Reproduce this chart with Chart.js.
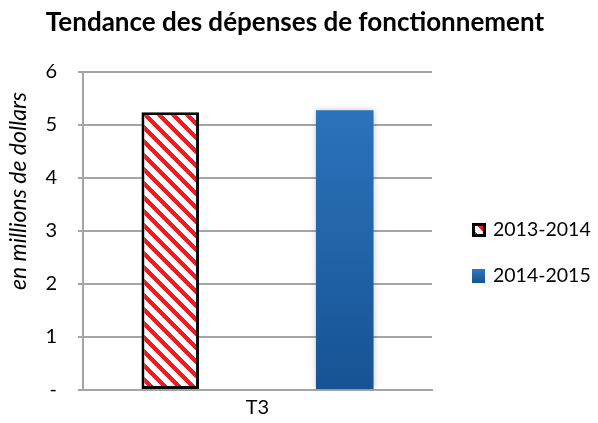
<!DOCTYPE html>
<html>
<head>
<meta charset="utf-8">
<script src="https://cdn.jsdelivr.net/npm/chart.js@4/dist/chart.umd.min.js"></script>
<style>
  html, body { margin:0; padding:0; background:#fff; }
  #wrap { width:598px; height:423px; }
</style>
</head>
<body>
<div id="wrap"><canvas id="chart" width="598" height="423"></canvas></div>
<script>
// data
const categories = ['T3'];
const seriesNames = ['2013-2014', '2014-2015'];
const values2013 = [5.24];
const values2014 = [5.28];
const yTickLabels = ['-', '1', '2', '3', '4', '5', '6'];
const chartTitle = 'Tendance des dépenses de fonctionnement';
const yTitle = 'en millions de dollars';

const FONT = 'Lato';

// red / white diagonal stripes
function makeStripes(){
    const s = 14, c = document.createElement('canvas');
    c.width = s; c.height = s;
    const g = c.getContext('2d');
    const img = g.createImageData(s, s);
    for(let y=0;y<s;y++){
        for(let x=0;x<s;x++){
            const k = (((x - y) % s) + s) % s;
            const red = k < 6;
            const i = (y*s + x)*4;
            img.data[i]   = red ? 237 : 255;
            img.data[i+1] = red ? 28 : 255;
            img.data[i+2] = red ? 36 : 255;
            img.data[i+3] = 255;
        }
    }
    g.putImageData(img, 0, 0);
    return g.createPattern(c, 'repeat');
}
const stripes = makeStripes();

function blueFill(context){
    const {ctx, chartArea} = context.chart;
    if(!chartArea) return '#2e75c0';
    const g = ctx.createLinearGradient(0, chartArea.top, 0, chartArea.bottom);
    g.addColorStop(0, '#2e77c2');
    g.addColorStop(1, '#165393');
    return g;
}

// title, y title and legend drawn by hand
const extras = {
    id:'extras',
    beforeDatasetDraw(chart, args){
        if(args.index === 1){
            const c = chart.ctx;
            c.save();
            c.shadowColor = 'rgba(0,0,0,0.22)';
            c.shadowBlur = 6;
        }
    },
    afterDatasetDraw(chart, args){
        if(args.index === 1) chart.ctx.restore();
    },
    afterDraw(chart){
        const c = chart.ctx;
        c.save();
        c.font = `bold 26px ${FONT}`;
        c.fillStyle = '#000';
        c.textAlign = 'center';
        c.textBaseline = 'middle';
        c.fillText(chartTitle, 295, 23);
        c.restore();

        c.save();
        c.translate(19, 191);
        c.rotate(-Math.PI/2);
        c.font = `italic 23px ${FONT}`;
        c.fillStyle = '#000';
        c.textAlign = 'center';
        c.textBaseline = 'middle';
        c.fillText(yTitle, 0, 0);
        c.restore();

        // legend
        c.save();
        c.font = `19.5px ${FONT}`;
        c.textBaseline = 'middle';
        const ys = [223, 269];
        seriesNames.forEach((name, i)=>{
            const bx = 472, by = ys[i], bs = 14;
            if(i === 0){
                c.fillStyle = '#000';
                c.fillRect(bx, by, bs, bs);
                c.fillStyle = stripes;
                c.fillRect(bx+3, by+3, bs-6, bs-6);
            }else{
                const g = c.createLinearGradient(0, by, 0, by+bs);
                g.addColorStop(0, '#2e77c2');
                g.addColorStop(1, '#165393');
                c.fillStyle = g;
                c.fillRect(bx, by, bs-1, bs);
            }
            c.fillStyle = '#000';
            c.fillText(name, 493, by + bs/2);
        });
        c.restore();
    }
};

new Chart(document.getElementById('chart'), {
    type:'bar',
    data:{
        labels:categories,
        datasets:[
            {label:seriesNames[0], data:values2013, backgroundColor:stripes,
             borderColor:'#000', borderWidth:3, borderSkipped:false},
            {label:seriesNames[1], data:values2014, backgroundColor:blueFill,
             borderWidth:0}
        ]
    },
    options:{
        responsive:false,
        animation:false,
        devicePixelRatio:1,
        categoryPercentage:1.0,
        barPercentage:0.33,
        layout:{padding:{left:0, right:166, top:72, bottom:0}},
        plugins:{
            legend:{display:false},
            tooltip:{enabled:false},
            title:{display:false}
        },
        scales:{
            x:{
                grid:{display:false, drawTicks:false},
                border:{display:true, color:'#a5a5a5', width:2},
                ticks:{color:'#000', padding:6, font:{family:FONT, size:20}},
                afterFit(s){ s.height = 28; }
            },
            y:{
                min:0, max:6,
                ticks:{
                    stepSize:1, color:'#000', padding:21,
                    font:{family:FONT, size:20},
                    callback:(v)=>yTickLabels[v]
                },
                grid:{color:'#a5a5a5', lineWidth:2, tickLength:5, tickColor:'#a5a5a5'},
                border:{display:true, color:'#a5a5a5', width:2},
                afterFit(s){ s.width = 83; }
            }
        }
    },
    plugins:[extras]
});
</script>
</body>
</html>
